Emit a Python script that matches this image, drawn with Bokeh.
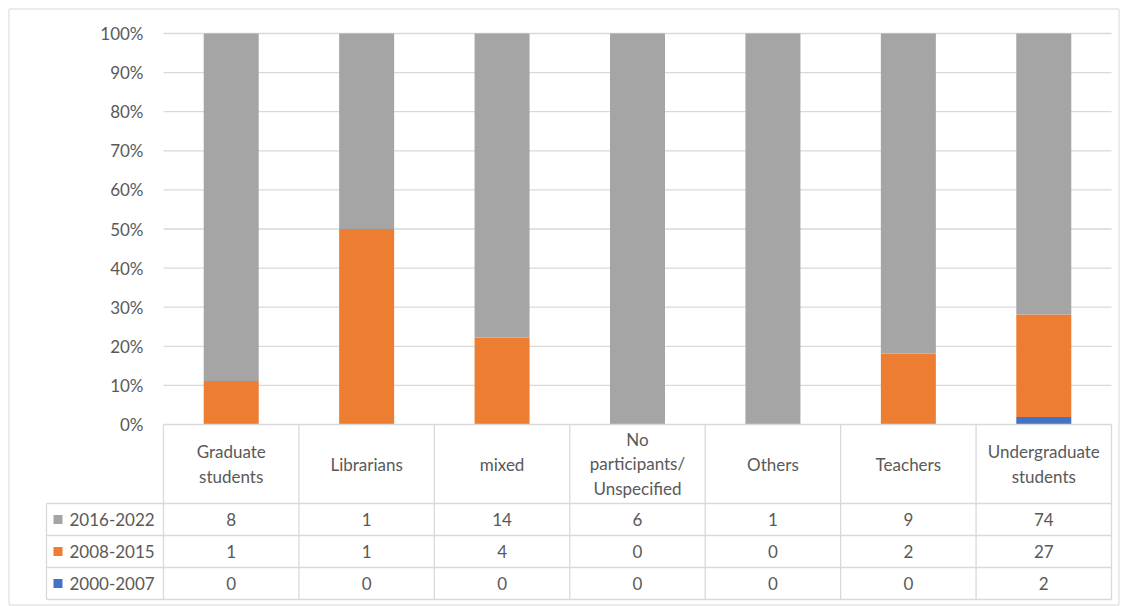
from bokeh.plotting import figure
from bokeh.models import Range1d
from bokeh.core.properties import value
from bokeh.embed import file_html
from bokeh.resources import INLINE

categories = ["Graduate\nstudents", "Librarians", "mixed", "No\nparticipants/\nUnspecified",
              "Others", "Teachers", "Undergraduate\nstudents"]
series_names = ["2016-2022", "2008-2015", "2000-2007"]
s2016_2022 = [8, 1, 14, 6, 1, 9, 74]
s2008_2015 = [1, 1, 4, 0, 0, 2, 27]
s2000_2007 = [0, 0, 0, 0, 0, 0, 2]
colors = ["#A5A5A5", "#ED7D31", "#4472C4"]
tick_values = [0, 0.1, 0.2, 0.3, 0.4, 0.5, 0.6, 0.7, 0.8, 0.9, 1.0]
tick_labels = ["0%", "10%", "20%", "30%", "40%", "50%", "60%", "70%", "80%", "90%", "100%"]

FONT = value("Lato")
FS = "17px"
TXT = "#595959"
GRID = "#D9D9D9"

n = len(categories)
tot = [a + b + c for a, b, c in zip(s2016_2022, s2008_2015, s2000_2007)]
p_low = [c / t for c, t in zip(s2000_2007, tot)]
p_mid = [(b + c) / t for b, c, t in zip(s2008_2015, s2000_2007, tot)]
p_top = [1.0] * n
xs = [i + 0.5 for i in range(n)]

# pixel geometry -> data ranges
W, H = 1124, 606
x0px, colw = 163.0, (1111 - 163) / 7.0
y0px, hpx = 424.0, 391.0
def dx(px): return (px - x0px) / colw
def dy(py): return (y0px - py) / hpx

p = figure(width=W, height=H, output_backend="svg", toolbar_location=None,
           x_range=Range1d(dx(0), dx(W)), y_range=Range1d(dy(H), dy(0)),
           min_border=0, outline_line_color=None)
p.axis.visible = False
p.grid.visible = False
p.background_fill_color = "white"
p.border_fill_color = "white"

# outer chart border
p.quad(left=dx(8.5), right=dx(1118.5), top=dy(8.5), bottom=dy(604.5),
       fill_color=None, line_color="#D9D9D9", line_width=1)

# gridlines
gl = tick_values[1:]
p.segment(x0=[0] * len(gl), x1=[n] * len(gl), y0=gl, y1=gl, line_color=GRID, line_width=1.3)

# stacked bars
bw = 55 / colw
p.vbar(x=xs, bottom=[0] * n, top=p_low, width=bw, fill_color=colors[2], line_color=None)
p.vbar(x=xs, bottom=p_low, top=p_mid, width=bw, fill_color=colors[1], line_color=None)
p.vbar(x=xs, bottom=p_mid, top=p_top, width=bw, fill_color=colors[0], line_color=None)

# y tick labels
p.text(x=[dx(143)] * len(tick_values), y=tick_values, text=tick_labels,
       text_align="right", text_baseline="middle", text_font=FONT,
       text_font_size=FS, text_color=TXT)

# data table
row_lines = [dy(503), dy(535), dy(567), dy(599)]
left_col = dx(46)
p.segment(x0=[0], x1=[n], y0=[0], y1=[0], line_color=GRID, line_width=1.3)
p.segment(x0=[left_col] * 4, x1=[n] * 4, y0=row_lines, y1=row_lines, line_color=GRID, line_width=1.3)
vx = list(range(n + 1))
p.segment(x0=vx, x1=vx, y0=[0] * len(vx), y1=[row_lines[-1]] * len(vx), line_color=GRID, line_width=1.3)
p.segment(x0=[left_col], x1=[left_col], y0=[row_lines[0]], y1=[row_lines[-1]], line_color=GRID, line_width=1.3)

# header labels
p.text(x=xs, y=[dy(463.5)] * n, text=categories, text_align="center", text_baseline="middle",
       text_font=FONT, text_font_size=FS, text_color=TXT, text_line_height=1.17)

# rows
row_centers = [dy(519), dy(551), dy(583)]
series_vals = [s2016_2022, s2008_2015, s2000_2007]
for r, (name, vals, col) in enumerate(zip(series_names, series_vals, colors)):
    yc = row_centers[r]
    p.text(x=xs, y=[yc] * n, text=[str(v) for v in vals], text_align="center",
           text_baseline="middle", text_font=FONT, text_font_size=FS, text_color=TXT)
    p.rect(x=[dx(57.5)], y=[yc], width=9 / colw, height=9 / hpx, fill_color=col, line_color=None)
    p.text(x=[dx(69)], y=[yc], text=[name], text_align="left", text_baseline="middle",
           text_font=FONT, text_font_size=FS, text_color=TXT)

open("out.html", "w").write(file_html(p, INLINE))
